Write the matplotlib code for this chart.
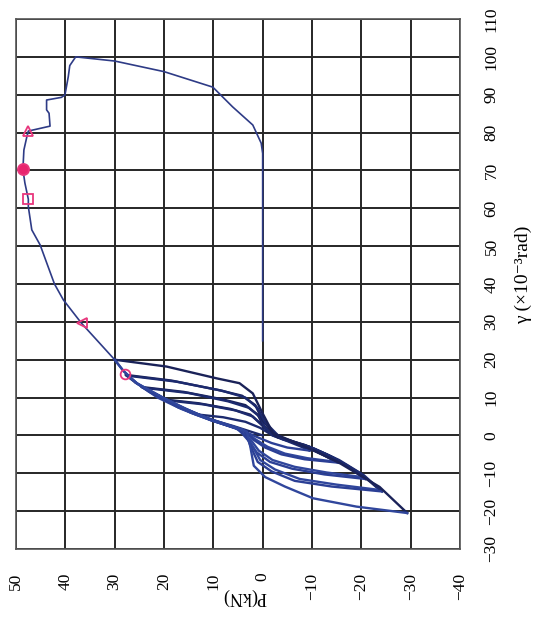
import matplotlib
matplotlib.use("Agg")
import matplotlib.pyplot as plt

# ---- data: (gamma [x10^-3 rad], P [kN]) ----
# hysteresis cycles: down = from positive peak to negative peak, up = back to positive peak
e_down = [(0, 0), (2.5, 6), (4.3, 10.8), (5.5, 13), (4.8, 8), (3.6, 3.5), (2, 0.5), (0, -2), (-1.5, -5), (-2.8, -7.5), (-4, -9.5)]
e_up = [(-4, -9.5), (-3.2, -5), (-2, -1.8), (-0.5, 1), (1.5, 4.5), (3, 8), (4.3, 10.8), (5.5, 13)]
d_down = [(5.5, 13), (7.5, 17.2), (9.5, 20), (8.5, 13), (7, 6.5), (5.5, 2.5), (3, 0.3), (0.5, -1.5), (-1.5, -5.5), (-3.5, -9.5), (-5.3, -12.5), (-7, -15)]
d_up = [(-7, -15), (-6, -9), (-4.8, -4.5), (-3, -1), (-1, 1.5), (1.5, 4), (3.5, 9), (5.5, 13.5), (7.5, 17.2), (9.3, 19.6)]
d2_down = [(9.3, 19.6), (8.2, 12), (6.6, 5.5), (5, 2), (2.5, 0), (0, -2), (-2, -6.5), (-4, -10.5), (-5.6, -13), (-7.2, -15.4)]
d2_up = [(-7.2, -15.4), (-6.3, -8.5), (-5, -3.8), (-3.2, -0.5), (-1.2, 1.8), (1.2, 3.6), (3.8, 10), (6, 14.6), (8.5, 18.5), (10.5, 21)]
c_down = [(10.5, 21), (12.8, 24.6), (11.5, 16), (9.5, 8), (8, 3.5), (5.5, 1), (2.8, 0), (-0.5, -3), (-2.5, -8.5), (-5, -13), (-8, -17.2), (-11, -20.2)]
c_up = [(-11, -20.2), (-9.8, -13), (-8.3, -6.5), (-6.5, -2), (-4, 0.8), (-1, 2.5), (2, 5.5), (4.5, 11.5), (7, 16.5), (10, 21.3), (12.6, 24.2)]
c2_down = [(12.6, 24.2), (11.2, 15), (9, 7), (7.3, 2.8), (4.8, 0.5), (2, -0.5), (-1, -4), (-3, -9.5), (-5.5, -13.8), (-8.5, -17.8), (-11.5, -20.8)]
c2_up = [(-11.5, -20.8), (-10.3, -12.5), (-8.8, -6), (-7, -1.5), (-4.5, 1.2), (-1.5, 2.8), (1.8, 5), (4.5, 11), (8, 17.8), (11.5, 23), (14, 25.8)]
b_down = [(14, 25.8), (16, 27.8), (14.5, 18.5), (12, 9), (10.5, 4.2), (8, 1.5), (4, 0), (0, -2.5), (-3, -9.5), (-6, -14.5), (-10, -19.8), (-14.4, -23.7)]
b_up = [(-14.4, -23.7), (-13, -15), (-11.5, -7.5), (-9, -2.5), (-6.5, 0.5), (-2.5, 2.2), (1.5, 4), (4.5, 11), (7.5, 16.5), (10.5, 21), (13.5, 25.2), (15.8, 27.5)]
b2_down = [(15.8, 27.5), (14.2, 17.5), (11.8, 8.2), (10, 3.5), (7.2, 1), (3.5, -0.5), (-0.5, -3.5), (-3.5, -10.5), (-6.5, -15.5), (-10.5, -20.5), (-14.8, -24.2)]
b2_up = [(-14.8, -24.2), (-13.5, -14), (-12, -6.5), (-9.5, -1.8), (-7, 1), (-3, 2.4), (1, 3.6), (4, 10.3), (7, 15.6), (10, 20.4), (13.8, 25.6), (17, 28.2), (20, 30)]
a_down = [(20, 30), (18.2, 19.5), (15.1, 9.4), (13.8, 4.7), (11.1, 2), (5.8, 0), (0.6, -2.1), (-3.8, -10.1), (-7.3, -15.6), (-13.6, -23.7), (-20.5, -29.3)]
a_up = [(-20.5, -29.3), (-18.8, -19), (-16.6, -10.2), (-13.5, -4.5), (-11, -0.5), (-8, 1.8), (-3, 2.5), (1, 3.2), (4, 10.5), (7, 15.5), (10, 20.2), (13.8, 25.5), (17, 28.2), (20, 30)]

cycles = [e_down, e_up, d_down, d_up, d2_down, d2_up, c_down, c_up, c2_down, c2_up,
          b_down, b_up, b2_down, b2_up, a_down, a_up]

# envelope after the last cycle, failure and unloading
backbone_gamma = [20, 24.3, 29.6, 35.8, 40, 44.6, 50.3, 54.3, 60.4, 62.4, 66.7, 70.3, 75.4, 78.9, 80.4,
                  81.7, 85.1, 86, 88.6, 89.3, 89.9, 91.2, 94.8, 97.7, 100, 98.9, 96.1, 92, 86.8, 82,
                  77.2, 74.5, 25]
backbone_P = [30, 33, 36.7, 40.4, 42.2, 43.5, 45.1, 46.8, 47.5, 47.5, 48.2, 48.6, 48.4, 47.8, 47.5,
              43.1, 43.3, 43.8, 43.8, 40.8, 40.1, 39.9, 39.4, 39.1, 37.9, 30, 20, 10.1, 6.1, 2,
              0.3, 0, 0]

# characteristic points
marker_gamma = [16.2, 29.6, 62.4, 70.3, 80.4]
marker_P = [27.9, 36.7, 47.5, 48.6, 47.5]
marker_shape = ["o", "<", "s", "o", "^"]
marker_fill = [False, False, False, True, False]

P_ticks = [50, 40, 30, 20, 10, 0, -10, -20, -30, -40]
gamma_ticks = [-30, -20, -10, 0, 10, 20, 30, 40, 50, 60, 70, 80, 90, 100, 110]

# ---- figure ----
W, H = 535, 621
fig = plt.figure(figsize=(W / 100, H / 100), dpi=100)
ax = fig.add_axes([16 / W, 1 - 549 / H, (460 - 16) / W, (549 - 19) / H])

ax.set_xlim(50, -40)
ax.set_ylim(-30, 110)
ax.set_xticks(P_ticks)
ax.set_yticks(gamma_ticks)
ax.grid(True, color="#262626", linewidth=1.4)
ax.set_axisbelow(True)
for s in ax.spines.values():
    s.set_color("#555555")
    s.set_linewidth(1.2)

font = ["Liberation Serif", "DejaVu Serif"]
ax.set_xticklabels([str(v).replace("-", "\u2212") for v in P_ticks], rotation=90,
                   family=font, fontsize=12.5, va="top")
ax.yaxis.tick_right()
ax.set_yticklabels([str(v).replace("-", "\u2212") for v in gamma_ticks], rotation=90,
                   family=font, fontsize=12.5, va="center", ha="left")
ax.tick_params(axis="x", length=0, pad=17)
ax.tick_params(axis="y", length=0, pad=17)

line_colors = ["#1c2a6e", "#2b3f95", "#1a2258", "#30469c"]
for i, cyc in enumerate(cycles):
    g = [p[0] for p in cyc]
    P = [p[1] for p in cyc]
    ax.plot(P, g, color=line_colors[i % len(line_colors)], linewidth=1.7, solid_joinstyle="round")

ax.plot(backbone_P, backbone_gamma, color="#2e3b86", linewidth=1.2)

for g, P, m, f in zip(marker_gamma, marker_P, marker_shape, marker_fill):
    ax.plot([P], [g], marker=m, markersize=8 if f else 7,
            markerfacecolor="#e8246e" if f else "none",
            markeredgecolor="#e8377d", markeredgewidth=1.3, linestyle="none")

fig.text(245 / W, 1 - 597 / H, "P(kN)", rotation=180, family=font, fontsize=13,
         ha="center", va="center")
fig.text(523 / W, 1 - 275 / H, "\u03b3 (\u00d710\u207b\u00b3rad)", rotation=90, family=font,
         fontsize=14, ha="center", va="center")

fig.savefig("out.png", dpi=100, facecolor="white")
